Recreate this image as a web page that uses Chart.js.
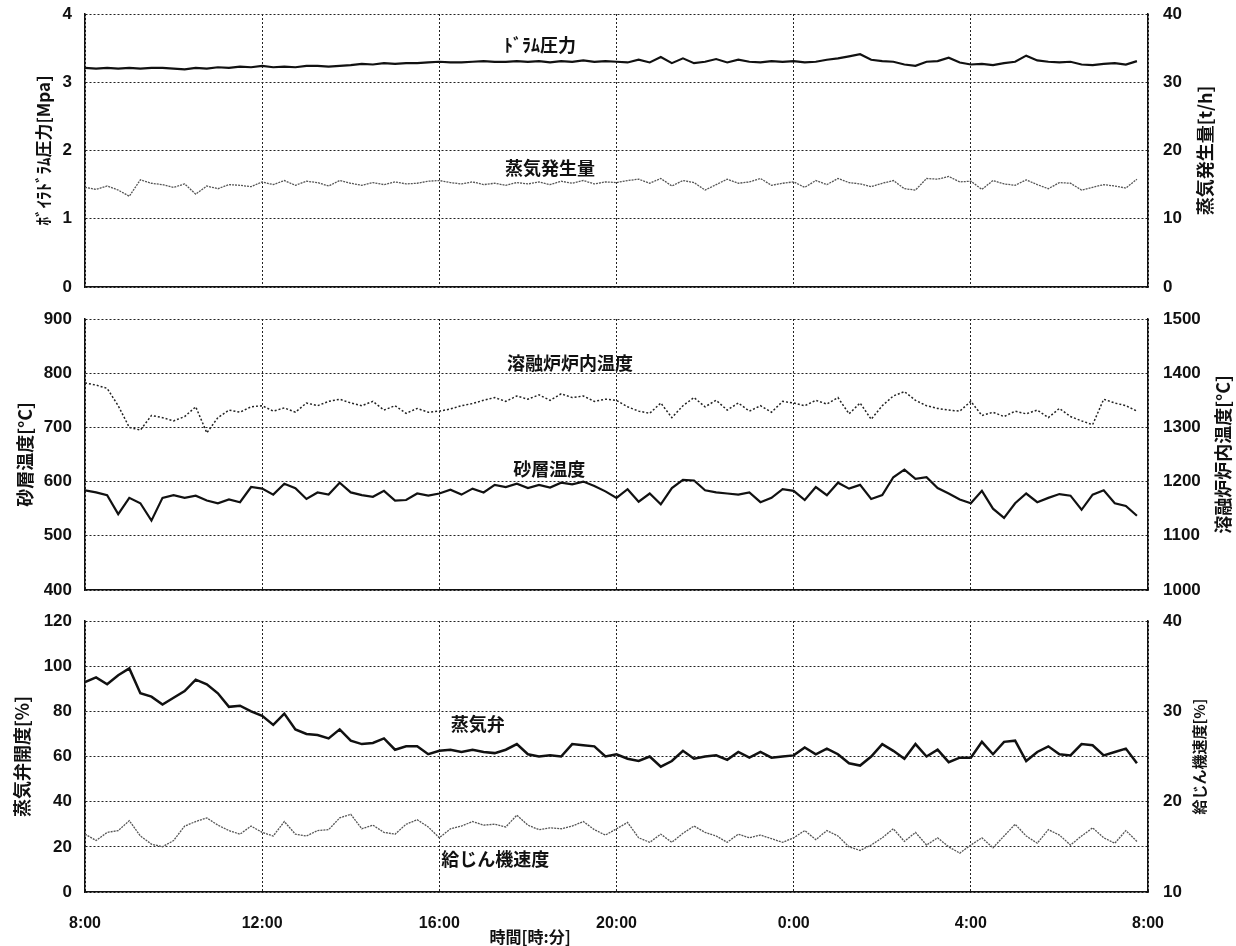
<!DOCTYPE html>
<html>
<head>
<meta charset="utf-8">
<script src="https://cdn.jsdelivr.net/npm/chart.js@4.4.1/dist/chart.umd.min.js"></script>
<style>
  html, body { margin: 0; padding: 0; background: #fff; }
  #wrap { position: relative; width: 1236px; height: 946px; overflow: hidden; }
  canvas { position: absolute; left: 0; }
</style>
</head>
<body>
<div id="wrap">
  <canvas id="chartBoiler" width="1236" height="300" style="top:0"></canvas>
  <canvas id="chartTemp" width="1236" height="300" style="top:300px"></canvas>
  <canvas id="chartValve" width="1236" height="346" style="top:600px"></canvas>
</div>
<script>
// =========================================================
// 1. DATA (one sample every 15 min, starting at 8:00)
// =========================================================

const SAMPLE_STEP_H = 0.25;
const timeLabels = ['8:00', '12:00', '16:00', '20:00', '0:00', '4:00', '8:00'];

// --- Panel 1: boiler drum pressure [MPa] / steam generation [t/h] ---
const drumPressure = [
  3.21, 3.20, 3.21, 3.20, 3.21, 3.20, 3.21, 3.21,
  3.20, 3.19, 3.21, 3.20, 3.22, 3.21, 3.23, 3.22,
  3.24, 3.22, 3.23, 3.22, 3.24, 3.24, 3.23, 3.24,
  3.25, 3.27, 3.26, 3.28, 3.27, 3.28, 3.28, 3.29,
  3.30, 3.29, 3.29, 3.30, 3.31, 3.30, 3.30, 3.31,
  3.30, 3.31, 3.29, 3.31, 3.30, 3.32, 3.30, 3.31,
  3.30, 3.29, 3.33, 3.29, 3.37, 3.28, 3.35, 3.28,
  3.30, 3.34, 3.29, 3.33, 3.30, 3.29, 3.31, 3.30,
  3.31, 3.29, 3.30, 3.33, 3.35, 3.38, 3.41, 3.33,
  3.31, 3.30, 3.26, 3.24, 3.30, 3.31, 3.36, 3.29,
  3.26, 3.27, 3.25, 3.28, 3.30, 3.39, 3.32, 3.30,
  3.29, 3.30, 3.26, 3.25, 3.27, 3.28, 3.26, 3.31
];
const steamGeneration = [
  14.6, 14.3, 14.8, 14.2, 13.3, 15.7, 15.2, 15.0,
  14.6, 15.1, 13.6, 14.8, 14.4, 15.0, 14.9, 14.7,
  15.4, 15.0, 15.6, 14.9, 15.5, 15.3, 14.8, 15.6,
  15.2, 14.9, 15.3, 15.0, 15.4, 15.1, 15.2, 15.5,
  15.6, 15.3, 15.1, 15.4, 15.0, 15.2, 14.9, 15.3,
  15.1, 15.4, 15.0, 15.5, 15.2, 15.6, 15.1, 15.4,
  15.3, 15.6, 15.8, 15.2, 15.9, 14.8, 15.6, 15.3,
  14.2, 15.0, 15.8, 15.2, 15.4, 15.9, 14.9, 15.2,
  15.4, 14.6, 15.6, 15.0, 15.9, 15.3, 15.1, 14.7,
  15.2, 15.6, 14.4, 14.2, 15.9, 15.8, 16.2, 15.4,
  15.5, 14.3, 15.6, 15.1, 14.9, 15.7, 15.0, 14.4,
  15.3, 15.2, 14.2, 14.6, 15.0, 14.8, 14.5, 15.8
];

// --- Panel 2: sand bed temperature / melting furnace temperature [°C] ---
const furnaceTemp = [
  1382, 1378, 1372, 1340, 1300, 1295, 1322, 1318,
  1312, 1320, 1338, 1290, 1318, 1332, 1328, 1338,
  1340, 1330, 1336, 1328, 1345, 1340, 1348, 1352,
  1345, 1340, 1348, 1332, 1340, 1326, 1335, 1328,
  1330, 1334, 1340, 1344, 1350, 1355, 1348, 1358,
  1352, 1360, 1350, 1362, 1355, 1358, 1348, 1352,
  1350, 1338, 1330, 1326, 1345, 1318, 1340, 1355,
  1338, 1350, 1332, 1345, 1330, 1340, 1328, 1348,
  1345, 1340, 1350, 1343, 1355, 1325, 1345, 1315,
  1340, 1358, 1366, 1350, 1340, 1335, 1332, 1330,
  1348, 1322, 1328, 1320, 1330, 1325, 1332, 1318,
  1335, 1320, 1312, 1305, 1352, 1345, 1340, 1330
];
const sandBedTemp = [
  584, 580, 575, 540, 570, 560, 528, 570,
  575, 570, 574, 565, 560, 567, 562, 590,
  587, 576, 596, 588, 568, 580, 576, 598,
  580, 575, 572, 583, 565, 566, 578, 574,
  578, 585, 576, 587, 580, 594, 590, 596,
  588, 594, 589, 598, 595, 600, 592, 582,
  570, 586, 563, 578, 558, 588, 603, 602,
  584, 580, 578, 576, 580, 562, 570, 586,
  583, 566, 590, 575, 598, 587, 594, 568,
  575, 608, 622, 605, 608, 588, 578, 567,
  560, 583, 550, 533, 560, 578, 562, 570,
  577, 574, 548, 576, 584, 560, 555, 537
];

// --- Panel 3: steam valve opening [%] / feeder speed [%] ---
const steamValve = [
  93, 95, 92, 96, 99, 88, 86.5, 83,
  86, 89, 94, 92, 88, 82, 82.5, 80,
  78, 74, 79, 72, 70, 69.5, 68, 72,
  67, 65.5, 66, 68, 63, 64.5, 64.5, 61,
  62.5, 63, 62, 63, 62, 61.5, 63, 65.5,
  61, 60, 60.5, 60, 65.5, 65, 64.5, 60,
  61, 59, 58, 60, 55.5, 58, 62.5, 59,
  60, 60.5, 58.5, 62, 59.5, 62, 59.5, 60,
  60.5, 64, 61, 63.5, 61, 57, 56, 60,
  65.5, 62.5, 59, 65.5, 60, 63, 57.5, 59.5,
  59.5, 66.5, 61, 66.5, 67, 58, 62, 64.5,
  61, 60.5, 65.5, 65, 60.5, 62, 63.5, 57
];
const feederSpeed = [
  16.4, 15.7, 16.6, 16.8, 17.9, 16.2, 15.3, 15.0,
  15.7, 17.3, 17.8, 18.2, 17.4, 16.8, 16.4, 17.3,
  16.6, 16.2, 17.8, 16.4, 16.2, 16.8, 16.9, 18.2,
  18.6, 17.0, 17.4, 16.6, 16.4, 17.5, 18.0, 17.2,
  16.0, 17.0, 17.3, 17.8, 17.4, 17.5, 17.2, 18.5,
  17.4, 16.9, 17.1, 17.0, 17.3, 17.8, 16.9, 16.3,
  17.0, 17.7, 16.0, 15.5, 16.4, 15.5, 16.5, 17.3,
  16.6, 16.2, 15.5, 16.4, 16.0, 16.3, 15.9, 15.5,
  16.0, 16.8, 15.8, 16.8, 16.2, 15.0, 14.6, 15.2,
  16.0, 17.0, 15.6, 16.6, 15.2, 16.0, 15.0, 14.3,
  15.2, 16.0, 14.9, 16.2, 17.5, 16.2, 15.4, 16.9,
  16.3, 15.2, 16.2, 17.1, 16.0, 15.4, 16.8, 15.6
];

// =========================================================
// 2. HELPERS
// =========================================================

const NUM_FONT = "'Liberation Sans', Arial, sans-serif";
const JP_FONT = "'Noto Sans CJK JP', sans-serif";
const INK = '#111';

const toPoints = values => values.map((v, i) => ({ x: i * SAMPLE_STEP_H, y: v }));

// draws the rotated axis titles and the in-plot series names
function makeTextPlugin(cfg) {
    return {
        id: 'panelText',
        afterDraw(chart) {
            const ctx = chart.ctx;
            const area = chart.chartArea;
            ctx.save();
            ctx.fillStyle = INK;
            ctx.textAlign = 'center';
            ctx.textBaseline = 'middle';
            cfg.axisTitles.forEach(t => {
                ctx.save();
                ctx.translate(t.x, (area.top + area.bottom) / 2);
                ctx.rotate(-Math.PI / 2);
                ctx.font = 'bold ' + t.size + 'px ' + JP_FONT;
                ctx.fillText(t.text, 0, 0);
                ctx.restore();
            });
            cfg.seriesLabels.forEach(l => {
                ctx.font = 'bold 18px ' + JP_FONT;
                ctx.fillText(l.text, chart.scales.x.getPixelForValue(l.t), chart.scales[l.axis].getPixelForValue(l.v));
            });
            if (cfg.xTitle) {
                ctx.font = 'bold 16px ' + JP_FONT;
                ctx.fillText(cfg.xTitle.text, chart.scales.x.getPixelForValue(cfg.xTitle.t), area.bottom + cfg.xTitle.dy);
            }
            ctx.restore();
        }
    };
}

// fixed axis size, and no extra label overflow padding
const fixWidth = w => s => { s.width = w; s.paddingTop = 0; s.paddingBottom = 0; };

function createPanel(canvasId, cfg) {
    const ctx = document.getElementById(canvasId).getContext('2d');
    const tickFont = { family: NUM_FONT, size: 17, weight: 'bold' };
    return new Chart(ctx, {
        type: 'line',
        data: { datasets: cfg.datasets },
        options: {
            responsive: false, animation: false, events: [],
            layout: { autoPadding: false, padding: { top: cfg.padTop, bottom: cfg.padBottom, left: 0, right: 0 } },
            elements: { point: { radius: 0 }, line: { tension: 0 } },
            plugins: { legend: { display: false }, tooltip: { enabled: false } },
            scales: {
                x: {
                    type: 'linear', min: 0, max: 24,
                    ticks: {
                        display: cfg.showTime, stepSize: 4, padding: 22, autoSkip: false, maxRotation: 0,
                        color: INK, font: { family: NUM_FONT, size: 16, weight: 'bold' },
                        callback: (v) => timeLabels[Math.round(v / 4)]
                    },
                    grid: { color: '#222', lineWidth: 1, drawTicks: false },
                    border: { color: INK, width: 1.5, dash: [2, 2] },
                    afterFit: s => { s.height = cfg.xHeight; s.paddingLeft = 0; s.paddingRight = 0; }
                },
                y: {
                    position: 'left', min: cfg.left.min, max: cfg.left.max,
                    ticks: { stepSize: cfg.left.step, padding: 13, color: INK, font: tickFont, callback: v => String(v) },
                    grid: { color: '#222', lineWidth: 1, drawTicks: false },
                    border: { color: INK, width: 1.5, dash: [2, 2] },
                    afterFit: fixWidth(85)
                },
                y2: {
                    position: 'right', min: cfg.right.min, max: cfg.right.max,
                    ticks: { stepSize: cfg.right.step, padding: 15, color: INK, font: tickFont, callback: v => String(v) },
                    grid: { display: false, drawTicks: false },
                    border: { color: INK, width: 1.5 },
                    afterFit: fixWidth(88)
                }
            }
        },
        plugins: [makeTextPlugin(cfg)]
    });
}

// =========================================================
// 3. PANELS
// =========================================================

document.addEventListener('DOMContentLoaded', () => {
    createPanel('chartBoiler', {
        padTop: 14, padBottom: 13, xHeight: 0, showTime: false,
        left: { min: 0, max: 4, step: 1 },
        right: { min: 0, max: 40, step: 10 },
        datasets: [
            { label: 'ﾄﾞﾗﾑ圧力', data: toPoints(drumPressure), yAxisID: 'y', borderColor: INK, borderWidth: 2.2 },
            { label: '蒸気発生量', data: toPoints(steamGeneration), yAxisID: 'y2', borderColor: '#555', borderWidth: 1.3, borderDash: [2, 1] }
        ],
        axisTitles: [
            { text: 'ﾎﾞｲﾗﾄﾞﾗﾑ圧力[Mpa]', x: 44, size: 17 },
            { text: '蒸気発生量[t/h]', x: 1205, size: 18 }
        ],
        seriesLabels: [
            { text: 'ﾄﾞﾗﾑ圧力', t: 10.27, v: 3.55, axis: 'y' },
            { text: '蒸気発生量', t: 10.5, v: 1.74, axis: 'y' }
        ]
    });

    createPanel('chartTemp', {
        padTop: 19, padBottom: 10, xHeight: 0, showTime: false,
        left: { min: 400, max: 900, step: 100 },
        right: { min: 1000, max: 1500, step: 100 },
        datasets: [
            { label: '溶融炉炉内温度', data: toPoints(furnaceTemp), yAxisID: 'y2', borderColor: '#222', borderWidth: 1.5, borderDash: [2, 2] },
            { label: '砂層温度', data: toPoints(sandBedTemp), yAxisID: 'y', borderColor: INK, borderWidth: 2.2 }
        ],
        axisTitles: [
            { text: '砂層温度[°C]', x: 25, size: 18 },
            { text: '溶融炉炉内温度[°C]', x: 1223, size: 18 }
        ],
        seriesLabels: [
            { text: '溶融炉炉内温度', t: 10.95, v: 819, axis: 'y' },
            { text: '砂層温度', t: 10.48, v: 623, axis: 'y' }
        ]
    });

    createPanel('chartValve', {
        padTop: 21, padBottom: 0, xHeight: 54, showTime: true,
        left: { min: 0, max: 120, step: 20 },
        right: { min: 10, max: 40, step: 10 },
        datasets: [
            { label: '蒸気弁', data: toPoints(steamValve), yAxisID: 'y', borderColor: INK, borderWidth: 2.5 },
            { label: '給じん機速度', data: toPoints(feederSpeed), yAxisID: 'y2', borderColor: '#555', borderWidth: 1.3, borderDash: [2, 1] }
        ],
        axisTitles: [
            { text: '蒸気弁開度[%]', x: 22, size: 18 },
            { text: '給じん機速度[%]', x: 1199, size: 15 }
        ],
        seriesLabels: [
            { text: '蒸気弁', t: 8.87, v: 74.4, axis: 'y' },
            { text: '給じん機速度', t: 9.26, v: 14.6, axis: 'y' }
        ],
        xTitle: { text: '時間[時:分]', t: 10.05, dy: 45 }
    });
});
</script>
</body>
</html>
